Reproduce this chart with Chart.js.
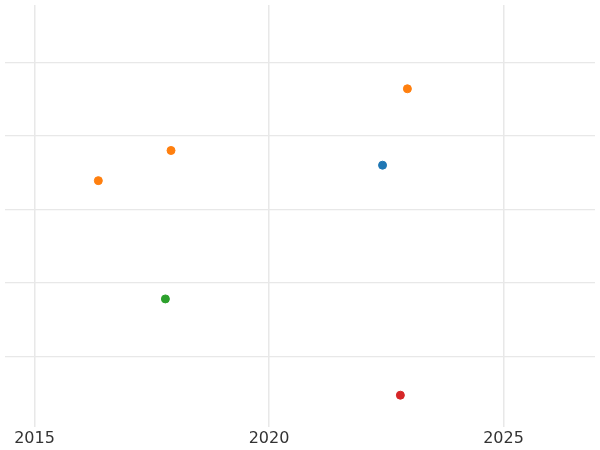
<!DOCTYPE html>
<html>
<head>
<script src="https://cdn.jsdelivr.net/npm/chart.js@4"></script>
<style>
  html, body { margin: 0; padding: 0; background: #fff; }
  #wrap { width: 600px; height: 450px; }
</style>
</head>
<body>
<div id="wrap"><canvas id="c"></canvas></div>
<script>
// points, grouped by colour
const blueX = [2022.42];
const blueY = [3.6];
const orangeX = [2022.95, 2017.91, 2016.36];
const orangeY = [4.64, 3.8, 3.39];
const greenX = [2017.79];
const greenY = [1.78];
const redX = [2022.8];
const redY = [0.47];
const xTicks = [2015, 2020, 2025];

const pts = (xs, ys) => xs.map((x, i) => ({ x, y: ys[i] }));
const ds = (xs, ys, color) => ({
  data: pts(xs, ys),
  backgroundColor: color,
  borderColor: color,
  pointRadius: 4,
  pointHoverRadius: 4,
  clip: false
});

new Chart(document.getElementById('c'), {
  type: 'scatter',
  data: {
    datasets: [
      ds(blueX, blueY, '#1f77b4'),
      ds(orangeX, orangeY, '#ff7f0e'),
      ds(greenX, greenY, '#2ca02c'),
      ds(redX, redY, '#d62728')
    ]
  },
  options: {
    responsive: true,
    maintainAspectRatio: false,
    animation: false,
    layout: { padding: { left: -5, right: -5, top: -5, bottom: 0 } },
    plugins: { legend: { display: false }, tooltip: { enabled: false } },
    scales: {
      x: {
        type: 'linear',
        min: 2014.37,
        max: 2026.95,
        afterBuildTicks: axis => { axis.ticks = xTicks.map(v => ({ value: v })); },
        grid: { color: '#e8e8e8', lineWidth: 1.5, drawTicks: false },
        border: { display: false },
        ticks: {
          color: '#333', font: { family: 'DejaVu Sans', size: 16 }, padding: 2,
          callback: v => String(v)
        }
      },
      y: {
        min: 0.04,
        max: 5.78,
        afterBuildTicks: axis => { axis.ticks = [1, 2, 3, 4, 5].map(v => ({ value: v })); },
        grid: { color: '#e8e8e8', lineWidth: 1.2, drawTicks: false },
        border: { display: false },
        ticks: { display: false }
      }
    }
  }
});
</script>
</body>
</html>
